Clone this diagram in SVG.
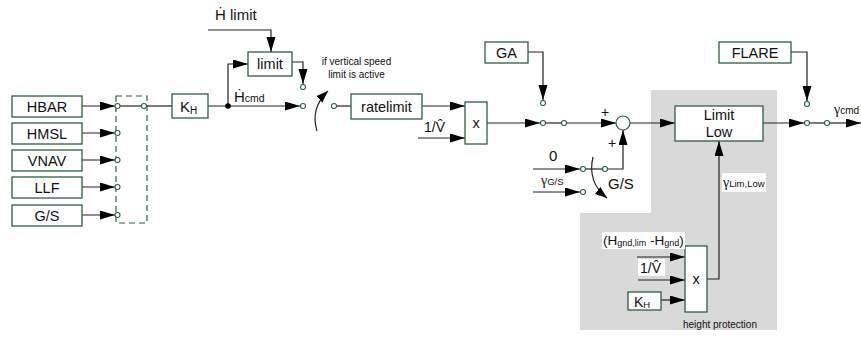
<svg xmlns="http://www.w3.org/2000/svg" width="861" height="341" viewBox="0 0 861 341">
<style>
text{font-family:"Liberation Sans","DejaVu Sans",Arial,sans-serif;fill:#111}
.box{fill:#fff;stroke:#2f5f3f;stroke-width:1.3}
.lbl{font-size:14.5px;text-anchor:middle}
.ln{fill:none;stroke:#222;stroke-width:1.2}
.sw{fill:#fff;stroke:#2f5f3f;stroke-width:1.1}
.g{font-family:"Liberation Serif","DejaVu Serif",serif}
.sm{font-size:10px}
</style>
<defs>
<marker id="ar" markerUnits="userSpaceOnUse" markerWidth="16" markerHeight="10" refX="15" refY="4.5" orient="auto">
<path d="M0,0 L15,4.5 L0,9 z" fill="#000"/>
</marker>
<marker id="ar2" markerUnits="userSpaceOnUse" markerWidth="14" markerHeight="10" refX="12" refY="4.5" orient="auto">
<path d="M0,0 L12,4.5 L0,9 z" fill="#000"/>
</marker>
</defs>
<rect width="861" height="341" fill="#fff"/>
<polygon points="651,90 777,90 777,330 580,330 580,213 651,213" fill="#d9d9d9"/>

<g id="connectors">
<path class="ln" d="M82,106 H115" marker-end="url(#ar)"/>
<path class="ln" d="M82,133 H115" marker-end="url(#ar)"/>
<path class="ln" d="M82,160 H115" marker-end="url(#ar)"/>
<path class="ln" d="M82,187 H115" marker-end="url(#ar)"/>
<path class="ln" d="M82,215 H115" marker-end="url(#ar)"/>
<path class="ln" d="M119,106 H142"/>
<path class="ln" d="M146,106 H172"/>
<path class="ln" d="M208,106 H300" marker-end="url(#ar)"/>
<path class="ln" d="M228,106 V64 H248" marker-end="url(#ar)"/>
<path class="ln" d="M208,30 H271 V52" marker-end="url(#ar)"/>
<path class="ln" d="M292,62 H303 V84" marker-end="url(#ar)"/>
<path class="ln" d="M317,131 Q310,108 328,91" marker-end="url(#ar2)"/>
<path class="ln" d="M336,106 H351"/>
<path class="ln" d="M422,106 H465" marker-end="url(#ar)"/>
<path class="ln" d="M418,138 H465" marker-end="url(#ar)"/>
<path class="ln" d="M487,123 H540" marker-end="url(#ar)"/>
<path class="ln" d="M528,52 H543 V100" marker-end="url(#ar)"/>
<path class="ln" d="M545,123 H562"/>
<path class="ln" d="M566,123 H616" marker-end="url(#ar)"/>
<path class="ln" d="M533,169 H580" marker-end="url(#ar)"/>
<path class="ln" d="M533,192 H580" marker-end="url(#ar)"/>
<path class="ln" d="M585,169 H603"/>
<path class="ln" d="M607,169 H623 V130" marker-end="url(#ar)"/>
<path class="ln" d="M593,157 Q587,182 607,198" marker-end="url(#ar2)"/>
<path class="ln" d="M630,123 H675" marker-end="url(#ar)"/>
<path class="ln" d="M763,123 H804" marker-end="url(#ar)"/>
<path class="ln" d="M791,52 H807 V101" marker-end="url(#ar)"/>
<path class="ln" d="M809,123 H825"/>
<path class="ln" d="M829,123 H861" marker-end="url(#ar)"/>
<path class="ln" d="M707,279 H719 V141" marker-end="url(#ar)"/>
<path class="ln" d="M637,257 H685" marker-end="url(#ar)"/>
<path class="ln" d="M638,280 H685" marker-end="url(#ar)"/>
<path class="ln" d="M661,300 H685" marker-end="url(#ar)"/>
<circle cx="228" cy="106" r="2.8" fill="#000"/>
</g>

<g id="switches">
<rect x="116" y="96" width="31" height="127" fill="none" stroke="#2f5f3f" stroke-width="1.2" stroke-dasharray="6,4"/>
<circle class="sw" cx="117.5" cy="106" r="2.5"/>
<circle class="sw" cx="144" cy="106" r="2.5"/>
<circle class="sw" cx="117.5" cy="133" r="2.5"/>
<circle class="sw" cx="117.5" cy="160" r="2.5"/>
<circle class="sw" cx="117.5" cy="187" r="2.5"/>
<circle class="sw" cx="117.5" cy="215" r="2.5"/>
<circle class="sw" cx="303" cy="87" r="2.5"/>
<circle class="sw" cx="303" cy="106" r="2.5"/>
<circle class="sw" cx="334" cy="106" r="2.5"/>
<circle class="sw" cx="543" cy="103" r="2.5"/>
<circle class="sw" cx="543" cy="123" r="2.5"/>
<circle class="sw" cx="564" cy="123" r="2.5"/>
<circle class="sw" cx="583" cy="169" r="2.5"/>
<circle class="sw" cx="605" cy="169" r="2.5"/>
<circle class="sw" cx="583" cy="192" r="2.5"/>
<circle class="sw" cx="807" cy="104" r="2.5"/>
<circle class="sw" cx="807" cy="123" r="2.5"/>
<circle class="sw" cx="827" cy="123" r="2.5"/>
</g>

<g id="hbar"><rect class="box" x="12" y="96" width="70" height="21"/><text class="lbl" x="47" y="111.5">HBAR</text></g>
<g id="hmsl"><rect class="box" x="12" y="123" width="70" height="21"/><text class="lbl" x="47" y="138.5">HMSL</text></g>
<g id="vnav"><rect class="box" x="12" y="150" width="70" height="21"/><text class="lbl" x="47" y="165.5">VNAV</text></g>
<g id="llf"><rect class="box" x="12" y="177" width="70" height="21"/><text class="lbl" x="47" y="192.5">LLF</text></g>
<g id="gs"><rect class="box" x="12" y="205" width="70" height="21"/><text class="lbl" x="47" y="220.5">G/S</text></g>

<g id="kh1"><rect class="box" x="172" y="94" width="36" height="24"/><text x="180" y="112" style="font-size:15px">K<tspan style="font-size:10px" dy="2">H</tspan></text></g>
<g id="limit"><rect class="box" x="248" y="52" width="44" height="24"/><text class="lbl" x="270" y="69">limit</text></g>
<g id="ratelimit"><rect class="box" x="351" y="94" width="71" height="25"/><text class="lbl" x="386.5" y="111.5">ratelimit</text></g>
<g id="mult1"><rect class="box" x="465" y="102" width="22" height="42"/><text class="lbl" x="476" y="128">x</text></g>
<g id="ga"><rect class="box" x="485" y="42" width="43" height="21"/><text class="lbl" x="506.5" y="57.5">GA</text></g>
<g id="sum"><circle cx="623" cy="123" r="7" fill="#fff" stroke="#2f5f3f" stroke-width="1.2"/></g>
<g id="limitlow"><rect class="box" x="675" y="106" width="88" height="35"/><text class="lbl" x="719" y="120">Limit</text><text class="lbl" x="719" y="136.5">Low</text></g>
<g id="flare"><rect class="box" x="719" y="42" width="72" height="21"/><text class="lbl" x="755" y="57.5">FLARE</text></g>
<g id="mult2"><rect class="box" x="685" y="246" width="22" height="66"/><text class="lbl" x="696" y="284">x</text></g>
<g id="kh2"><rect class="box" x="628" y="292" width="33" height="18"/><text x="634" y="306.5" style="font-size:14px">K<tspan style="font-size:9.5px" dy="1.5">H</tspan></text></g>

<g id="labels">
<text x="215" y="20" style="font-size:15px">Ḣ limit</text>
<text x="234" y="102" style="font-size:15px">Ḣ<tspan style="font-size:10.5px">cmd</tspan></text>
<text class="sm" x="356.5" y="65" text-anchor="middle">if vertical speed</text>
<text class="sm" x="356.5" y="78" text-anchor="middle">limit is active</text>
<text x="424" y="132" style="font-size:14px">1/V̂</text>
<text x="601" y="117" style="font-size:14px">+</text>
<text x="608" y="148" style="font-size:14px">+</text>
<text x="549" y="161" style="font-size:15px">0</text>
<text x="541" y="185"><tspan class="g" style="font-size:14px">γ</tspan><tspan style="font-size:9.5px">G/S</tspan></text>
<text x="608" y="189" style="font-size:15px">G/S</text>
<text x="834" y="114"><tspan class="g" style="font-size:14px">γ</tspan><tspan style="font-size:10px">cmd</tspan></text>
<rect x="722" y="173" width="44" height="19" fill="#fff"/>
<text x="723" y="187"><tspan class="g" style="font-size:14px">γ</tspan><tspan style="font-size:9.5px">Lim,Low</tspan></text>
<rect x="602" y="232" width="83" height="17" fill="#fff"/>
<text x="603" y="245" style="font-size:13.5px">(H<tspan style="font-size:9px" dy="1">gnd,lim</tspan><tspan dy="-1"> -H</tspan><tspan style="font-size:9px" dy="1">gnd</tspan><tspan dy="-1">)</tspan></text>
<rect x="638" y="259" width="27" height="17" fill="#fff"/>
<text x="640" y="273" style="font-size:14px">1/V̂</text>
<text class="sm" x="683" y="328">height protection</text>
</g>
</svg>
